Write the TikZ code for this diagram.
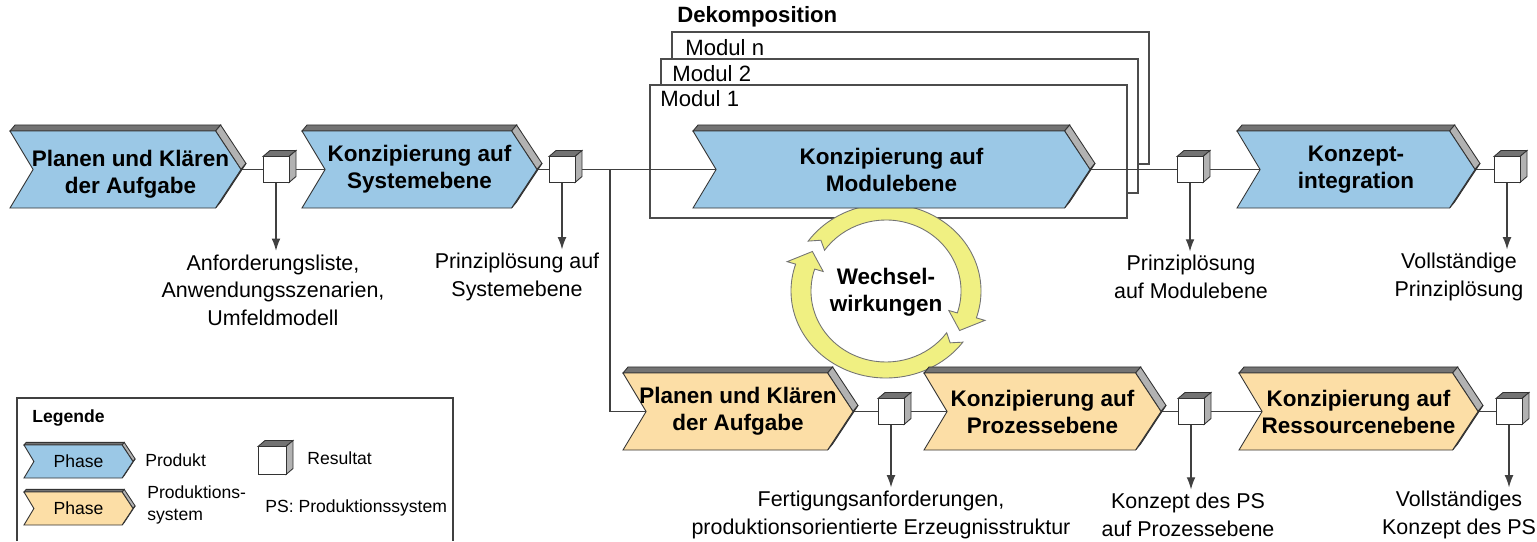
\documentclass[tikz,border=0pt]{standalone}
\usepackage{fontspec}
\setmainfont{Liberation Sans}
\usetikzlibrary{arrows.meta,backgrounds}

\definecolor{phaseblue}{RGB}{155,200,230}
\definecolor{phaseorange}{RGB}{252,222,166}
\definecolor{ringyellow}{RGB}{240,240,130}

\tikzset{
  flow/.style={draw=black!75, line width=0.7pt},
  outarrow/.style={flow, -{Latex[length=7pt,width=5pt]}},
  facetop/.style={fill=black!55, draw=black!80, line width=0.5pt},
  faceside/.style={fill=black!30, draw=black!80, line width=0.5pt},
  facelow/.style={fill=black!75, draw=black!80, line width=0.5pt},
  phasetext/.style={font=\fontsize{12.8}{15.4}\selectfont\bfseries, align=center},
  legendphase/.style={font=\fontsize{10}{12}\selectfont, align=center},
  legendtext/.style={font=\fontsize{10}{12.5}\selectfont, align=left, inner sep=0pt},
  resulttext/.style={font=\fontsize{12.2}{15.6}\selectfont, align=center, inner sep=2pt},
  modultext/.style={font=\fontsize{12.6}{15}\selectfont, inner sep=0pt},
  resultnode/.style={draw=black!80, fill=white, line width=0.5pt, inner sep=0pt},
  modulbox/.style={draw=black!70, fill=white, line width=0.7pt},
  cyclearrow/.style={fill=ringyellow, draw=black!55, line width=0.5pt}
}

\newcommand{\phase}[8][phasetext]{%
  \pgfmathsetmacro{\phxc}{#4-0.33*#6}
  \pgfmathsetmacro{\phxn}{#3+0.3*#6}
  \pgfmathsetmacro{\phyb}{#5+#6}
  \pgfmathsetmacro{\phym}{#5+#6/2}
  \pgfmathsetmacro{\phdx}{0.065*#6}
  \pgfmathsetmacro{\phdy}{0.078*#6}
  \filldraw[facetop] (#3,#5) -- ++(\phdx,-\phdy) -- (\phxc+\phdx,#5-\phdy) -- (\phxc,#5) -- cycle;
  \filldraw[faceside] (\phxc,#5) -- ++(\phdx,-\phdy) -- (#4+\phdx,\phym-\phdy) -- (#4,\phym) -- cycle;
  \filldraw[facelow] (#4,\phym) -- ++(\phdx,-\phdy) -- (\phxc+\phdx,\phyb-\phdy) -- (\phxc,\phyb) -- cycle;
  \filldraw[fill=#7, draw=black!80, line width=0.5pt] (#3,#5) -- (\phxc,#5) -- (#4,\phym) -- (\phxc,\phyb) -- (#3,\phyb) -- (\phxn,\phym) -- cycle;
  \coordinate (#2-in) at (\phxn,\phym);
  \coordinate (#2-out) at (#4,\phym);
  \node[#1] (#2) at ({(#3+#4)/2},\phym) {#8};
}

\newcommand{\resultbox}[4]{%
  \pgfmathsetmacro{\rbh}{#4/2}
  \filldraw[facetop] (#2-\rbh,#3-\rbh) -- ++(7,-6) -- ++(#4,0) -- (#2+\rbh,#3-\rbh) -- cycle;
  \filldraw[faceside] (#2+\rbh,#3-\rbh) -- ++(7,-6) -- ++(0,#4) -- (#2+\rbh,#3+\rbh) -- cycle;
  \node[resultnode, minimum size=#4*0.02cm] (#1) at (#2,#3) {};
}

\begin{document}
\begin{tikzpicture}[x=0.02cm, y=-0.02cm]
  \useasboundingbox (0,0) rectangle (1537,541);

  \begin{scope}[on background layer]
    \draw[modulbox] (672,32) rectangle (1149,164);
    \draw[modulbox] (661,59) rectangle (1138,193);
    \draw[modulbox] (650,85) rectangle (1127,218);
  \end{scope}
  \node[modultext, font=\fontsize{12.6}{15}\selectfont\bfseries, anchor=west] (dekomp) at (677,17) {Dekomposition};
  \node[modultext, anchor=west] (modn) at (685,48) {Modul n};
  \node[modultext, anchor=west] (mod2) at (672,74) {Modul 2};
  \node[modultext, anchor=west] (mod1) at (660,99) {Modul 1};

  \begin{scope}[shift={(886,291)}]
    \filldraw[cyclearrow] (-145:95 and 87) arc[start angle=-145, end angle=18, x radius=95, y radius=87]
      -- (18:104 and 95) -- (30:85 and 79) -- (18:66 and 63) -- (18:75 and 71)
      arc[start angle=18, end angle=-145, x radius=75, y radius=71] -- (-140:85 and 79) -- cycle;
    \filldraw[cyclearrow] (36:95 and 87) arc[start angle=36, end angle=198, x radius=95, y radius=87]
      -- (198:104 and 95) -- (210:85 and 79) -- (198:66 and 63) -- (198:75 and 71)
      arc[start angle=198, end angle=36, x radius=75, y radius=71] -- (41:85 and 79) -- cycle;
  \end{scope}
  \node[phasetext] (ww) at (886,292) {Wechsel-\\wirkungen};

  \phase[phasetext, xshift=0.1cm, yshift=-2.5pt]{p1}{10}{241}{131}{77}{phaseblue}{Planen und Klären\\der Aufgabe}
  \phase{p2}{302}{537}{131}{77}{phaseblue}{Konzipierung auf\\Systemebene}
  \phase{p3}{693}{1090}{131}{77}{phaseblue}{Konzipierung auf\\Modulebene}
  \phase{p4}{1237}{1475}{131}{77}{phaseblue}{Konzept-\\integration}
  \phase{p5}{623}{853}{373}{77}{phaseorange}{Planen und Klären\\der Aufgabe}
  \phase{p6}{924}{1161}{373}{77}{phaseorange}{Konzipierung auf\\Prozessebene}
  \phase{p7}{1239}{1478}{373}{77}{phaseorange}{Konzipierung auf\\Ressourcenebene}

  \resultbox{r1}{276}{169.5}{26}
  \resultbox{r2}{562}{169.5}{26}
  \resultbox{r3}{1190}{169.5}{26}
  \resultbox{r4}{1507}{169.5}{26}
  \resultbox{r5}{891}{411.5}{26}
  \resultbox{r6}{1191}{411.5}{26}
  \resultbox{r7}{1509}{411.5}{26}

  \node[resulttext] (l1) at (273,290) {Anforderungsliste,\\Anwendungsszenarien,\\Umfeldmodell};
  \node[resulttext] (l2) at (517,277) {Prinziplösung auf\\Systemebene};
  \node[resulttext] (l3) at (1191,277) {Prinziplösung\\auf Modulebene};
  \node[resulttext] (l4) at (1459,277) {Vollständige\\Prinziplösung};
  \node[resulttext] (l5) at (881,515) {Fertigungsanforderungen,\\produktionsorientierte Erzeugnisstruktur};
  \node[resulttext] (l6) at (1188,515) {Konzept des PS\\auf Prozessebene};
  \node[resulttext] (l7) at (1459,515) {Vollständiges\\Konzept des PS};

  \draw[outarrow] (r1) -- (r1 |- l1.north);
  \draw[outarrow] (r2) -- (r2 |- l2.north);
  \draw[outarrow] (r3) -- (r3 |- l3.north);
  \draw[outarrow] (r4) -- (r4 |- l4.north);
  \draw[outarrow] (r5) -- (r5 |- l5.north);
  \draw[outarrow] (r6) -- (r6 |- l6.north);
  \draw[outarrow] (r7) -- (r7 |- l7.north);

  \coordinate (split) at (610,169.5);
  \begin{scope}[on background layer]
    \draw[flow] (p1-out) -- (r1);
    \draw[flow] (r1) -- (p2-in);
    \draw[flow] (p2-out) -- (r2);
    \draw[flow] (r2) -- (p3-in);
    \draw[flow] (split) |- (p5-in);
    \draw[flow] (p3-out) -- (r3);
    \draw[flow] (r3) -- (p4-in);
    \draw[flow] (p4-out) -- (r4);
    \draw[flow] (p5-out) -- (r5);
    \draw[flow] (r5) -- (p6-in);
    \draw[flow] (p6-out) -- (r6);
    \draw[flow] (r6) -- (p7-in);
    \draw[flow] (p7-out) -- (r7);
  \end{scope}

  \draw[flow] (17,541) -- (17,398) -- (453,398) -- (453,541);
  \node[legendtext, font=\fontsize{10}{12}\selectfont\bfseries, anchor=west] (legende) at (32,418) {Legende};
  \phase[legendphase]{lgp}{24}{133}{445}{33}{phaseblue}{Phase}
  \phase[legendphase]{lgs}{24}{133}{492}{33}{phaseorange}{Phase}
  \node[legendtext, anchor=west] (lprod) at (145,460) {Produkt};
  \node[legendtext, anchor=west] (lps) at (147,505) {Produktions-\\system};
  \resultbox{lres}{272}{460.5}{28}
  \node[legendtext, anchor=west] (lresult) at (307,458) {Resultat};
  \node[legendtext, anchor=west] (lpsdef) at (265,508) {PS: Produktionssystem};
\end{tikzpicture}
\end{document}
